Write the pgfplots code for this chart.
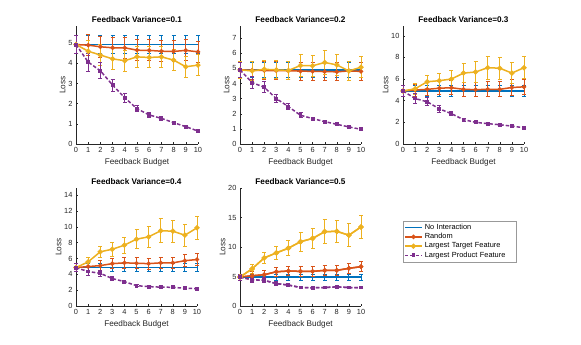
\documentclass[border=0pt]{standalone}
\usepackage{pgfplots}
\usepackage{pgfplotstable}
\pgfplotsset{compat=1.18}
\usepackage{fontspec}
\setmainfont{Liberation Sans}
\definecolor{mblue}{rgb}{0,0.447,0.741}
\definecolor{morange}{rgb}{0.85,0.325,0.098}
\definecolor{myellow}{rgb}{0.929,0.694,0.125}
\definecolor{mpurple}{rgb}{0.494,0.184,0.556}
\definecolor{axgray}{rgb}{0.15,0.15,0.15}

\pgfplotstableread{
x ni nie r re t te p pe
0 4.93 0.45 4.93 0.45 4.93 0.45 4.93 0.45
1 4.93 0.45 4.90 0.52 4.60 0.52 4.06 0.45
2 4.93 0.45 4.82 0.52 4.41 0.52 3.63 0.40
3 4.93 0.45 4.77 0.52 4.22 0.52 2.92 0.30
4 4.93 0.45 4.77 0.52 4.13 0.52 2.29 0.22
5 4.93 0.45 4.65 0.52 4.32 0.52 1.75 0.15
6 4.93 0.45 4.64 0.52 4.29 0.52 1.44 0.12
7 4.93 0.45 4.60 0.52 4.32 0.52 1.27 0.10
8 4.93 0.45 4.59 0.52 4.16 0.52 1.06 0.08
9 4.93 0.45 4.64 0.52 3.83 0.52 0.86 0.07
10 4.93 0.45 4.57 0.52 3.91 0.52 0.64 0.06
}\tA
\pgfplotstableread{
x ni nie r re t te p pe
0 4.90 0.50 4.90 0.55 4.90 0.55 4.90 0.50
1 4.90 0.50 4.88 0.60 4.83 0.60 4.06 0.40
2 4.90 0.50 4.86 0.60 4.94 0.60 3.75 0.35
3 4.90 0.50 4.85 0.60 4.90 0.60 3.00 0.25
4 4.90 0.50 4.84 0.60 4.86 0.60 2.47 0.20
5 4.90 0.50 4.82 0.60 5.19 0.70 1.90 0.15
6 4.90 0.50 4.80 0.60 5.17 0.70 1.68 0.10
7 4.90 0.50 4.79 0.60 5.39 0.77 1.48 0.10
8 4.90 0.50 4.77 0.60 5.23 0.70 1.30 0.08
9 4.90 0.50 4.83 0.60 4.83 0.65 1.13 0.07
10 4.90 0.50 4.80 0.60 5.08 0.70 0.97 0.06
}\tB
\pgfplotstableread{
x ni nie r re t te p pe
0 4.90 0.50 4.90 0.50 4.90 0.50 4.90 0.50
1 4.90 0.50 4.98 0.55 5.10 0.50 4.20 0.45
2 4.90 0.50 5.05 0.60 5.75 0.60 3.90 0.35
3 4.90 0.50 5.15 0.60 5.85 0.70 3.25 0.30
4 4.90 0.50 5.20 0.65 6.00 0.80 2.80 0.20
5 4.90 0.50 5.05 0.65 6.55 0.90 2.25 0.15
6 4.90 0.50 5.02 0.65 6.65 0.95 2.00 0.12
7 4.90 0.50 5.05 0.70 7.05 1.05 1.88 0.10
8 4.90 0.50 5.05 0.70 7.00 1.00 1.78 0.10
9 4.90 0.50 5.22 0.70 6.55 0.95 1.65 0.08
10 4.90 0.50 5.28 0.70 7.05 1.00 1.50 0.08
}\tC
\pgfplotstableread{
x ni nie r re t te p pe
0 4.85 0.50 4.85 0.50 4.85 0.50 4.85 0.50
1 4.85 0.50 4.98 0.55 5.57 0.60 4.35 0.45
2 4.85 0.50 5.10 0.60 6.84 0.70 4.13 0.40
3 4.85 0.50 5.35 0.65 7.17 0.90 3.46 0.30
4 4.85 0.50 5.45 0.70 7.68 1.00 3.08 0.20
5 4.85 0.50 5.40 0.70 8.44 1.20 2.57 0.15
6 4.85 0.50 5.35 0.70 8.73 1.30 2.45 0.15
7 4.85 0.50 5.45 0.70 9.50 1.50 2.38 0.15
8 4.85 0.50 5.45 0.70 9.45 1.40 2.36 0.15
9 4.85 0.50 5.72 0.75 8.94 1.40 2.24 0.15
10 4.85 0.50 5.87 0.80 9.87 1.45 2.20 0.15
}\tD
\pgfplotstableread{
x ni nie r re t te p pe
0 4.90 0.50 4.90 0.50 4.90 0.50 4.90 0.50
1 4.90 0.50 5.13 0.65 6.30 0.80 4.45 0.45
2 4.90 0.50 5.30 0.70 8.15 0.90 4.35 0.40
3 4.90 0.50 5.80 0.75 9.00 1.10 3.80 0.30
4 4.90 0.50 5.93 0.80 9.80 1.30 3.55 0.25
5 4.90 0.50 5.87 0.80 10.90 1.60 3.13 0.15
6 4.90 0.50 5.87 0.80 11.45 1.70 3.08 0.15
7 4.90 0.50 6.04 0.85 12.60 2.00 3.13 0.15
8 4.90 0.50 6.04 0.85 12.65 1.90 3.25 0.15
9 4.90 0.50 6.38 0.90 12.00 1.90 3.13 0.15
10 4.90 0.50 6.67 0.90 13.40 2.00 3.13 0.15
}\tE

\pgfplotsset{
  mlab/.style={
    scale only axis, anchor=south west,
    width=121pt, height=118pt,
    xmin=0, xmax=10, ymin=0,
    xtick={0,1,...,10},
    axis x line*=bottom, axis y line*=left,
    axis line style={axgray, line width=0.4pt},
    tick style={axgray, line width=0.4pt},
    tick align=inside, major tick length=2pt,
    /pgf/number format/assume math mode=true,
    ticklabel style={font=\fontsize{7.4}{8}\selectfont, text=axgray},
    xlabel style={font=\fontsize{8.2}{9}\selectfont, text=axgray, yshift=1pt},
    ylabel style={font=\fontsize{8.2}{9}\selectfont, text=axgray},
    ylabel shift=-4pt,
    title style={font=\bfseries\fontsize{8.2}{9}\selectfont, yshift=-6pt},
    xlabel={Feedback Budget}, ylabel={Loss},
    clip=false,
  },
  ebar/.style={error bars/.cd, y dir=both, y explicit,
    error bar style={line width=1pt, solid},
    error mark options={rotate=90, mark size=2pt, line width=1pt, solid}},
  sNI/.style={mblue, line width=1.5pt, mark=none},
  sR/.style={morange, line width=1.5pt, mark=*, mark size=1.4pt},
  sT/.style={myellow, line width=1.5pt, mark=*, mark size=1.8pt},
  sP/.style={mpurple, line width=1.5pt, dash pattern=on 3.5pt off 2pt, mark=square*, mark size=1.2pt, mark options={solid}},
}

\newcommand{\allseries}[1]{%
  \addplot[sNI, ebar] table[x=x, y=ni, y error=nie] {#1};
  \addplot[sR, ebar] table[x=x, y=r, y error=re] {#1};
  \addplot[sT, ebar] table[x=x, y=t, y error=te] {#1};
  \addplot[sP, ebar] table[x=x, y=p, y error=pe] {#1};
}

\begin{document}
\begin{tikzpicture}[x=1pt,y=1pt]
\path[use as bounding box] (0,0) rectangle (581,345);

\begin{axis}[mlab, at={(76pt,201pt)}, width=122pt, ymax=5.85, ytick={0,1,...,5},
  title={Feedback Variance=0.1}]
\allseries{\tA}
\end{axis}

\begin{axis}[mlab, at={(240pt,201pt)}, ymax=7.8, ytick={0,1,...,7},
  title={Feedback Variance=0.2}]
\allseries{\tB}
\end{axis}

\begin{axis}[mlab, at={(403pt,201pt)}, ymax=10.9, ytick={0,2,...,10},
  title={Feedback Variance=0.3}]
\allseries{\tC}
\end{axis}

\begin{axis}[mlab, at={(76pt,39pt)}, ymax=14.9, ytick={0,2,...,14},
  title={Feedback Variance=0.4}]
\allseries{\tD}
\end{axis}

\begin{axis}[mlab, at={(240pt,39pt)}, ymax=20, ytick={0,5,...,20},
  title={Feedback Variance=0.5},
  legend style={at={(1,0.547)}, anchor=west, xshift=42pt,
    font=\fontsize{7.4}{8}\selectfont, draw=black!40, line width=0.4pt,
    inner xsep=1pt, inner ysep=1pt, row sep=-1.5pt,
    text width=88pt},
  legend cell align=left]
\addplot[sNI] table[x=x, y=ni] {\tE};
\addlegendentry{No Interaction}
\addplot[sR] table[x=x, y=r] {\tE};
\addlegendentry{Random}
\addplot[sT] table[x=x, y=t] {\tE};
\addlegendentry{Largest Target Feature}
\addplot[sP] table[x=x, y=p] {\tE};
\addlegendentry{Largest Product Feature}
\addplot[forget plot, sNI, ebar] table[x=x, y=ni, y error=nie] {\tE};
\addplot[forget plot, sR, ebar] table[x=x, y=r, y error=re] {\tE};
\addplot[forget plot, sT, ebar] table[x=x, y=t, y error=te] {\tE};
\addplot[forget plot, sP, ebar] table[x=x, y=p, y error=pe] {\tE};
\end{axis}
\end{tikzpicture}
\end{document}
